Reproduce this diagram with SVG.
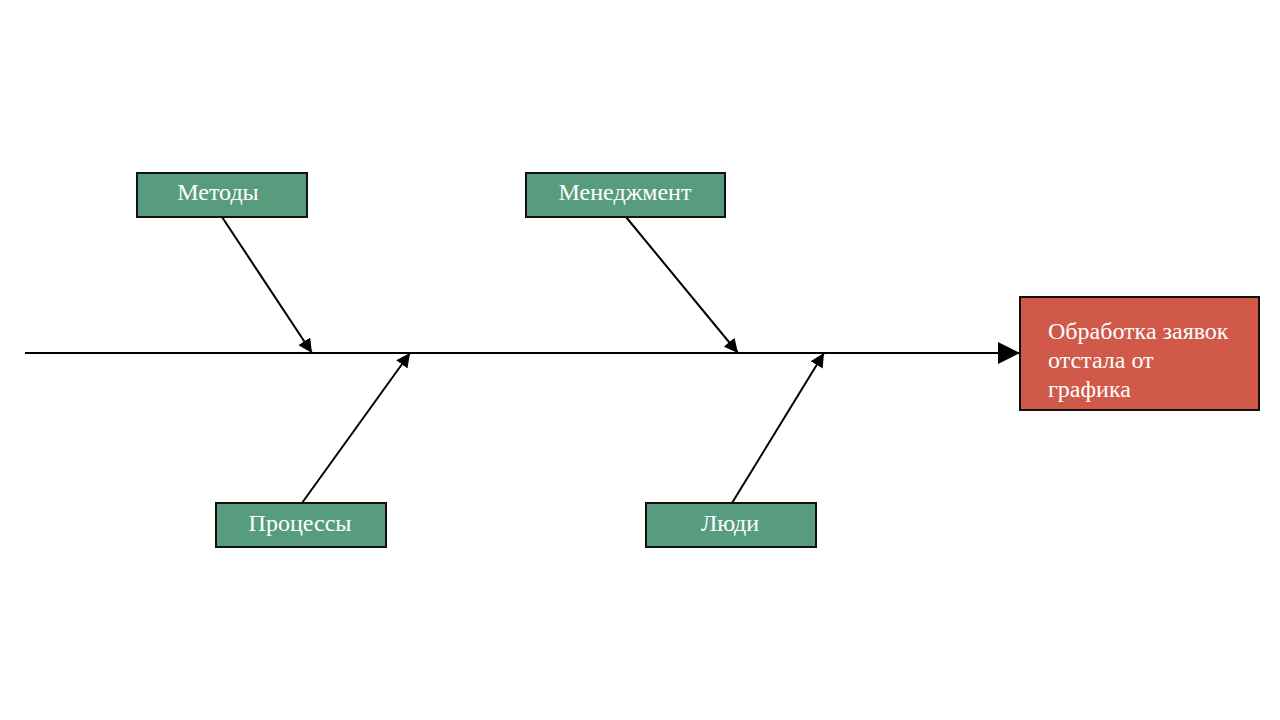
<svg xmlns="http://www.w3.org/2000/svg" width="1280" height="720" viewBox="0 0 1280 720">
<style>
.cat rect{fill:#579c7e;stroke:#111;stroke-width:2}
.cat text,.eff text{fill:#fff;font-family:"Liberation Serif",serif;font-size:24px}
.cat text{text-anchor:middle}
.eff rect{fill:#d0594a;stroke:#111;stroke-width:2}
.ln{stroke:#000;stroke-width:2;fill:none}
</style>
<defs>
<marker id="ah" viewBox="0 0 10 10" refX="10" refY="5" markerWidth="7" markerHeight="7" markerUnits="strokeWidth" orient="auto">
<path d="M0,0L10,5L0,10z" fill="#000"/>
</marker>
<marker id="big" viewBox="0 0 10 10" refX="10" refY="5" markerWidth="11" markerHeight="11" markerUnits="strokeWidth" orient="auto">
<path d="M0,0L10,5L0,10z" fill="#000"/>
</marker>
</defs>
<rect width="1280" height="720" fill="#fff"/>
<g id="connectors">
<line class="ln" x1="25" y1="353" x2="1020" y2="353" marker-end="url(#big)"/>
<line class="ln" x1="222" y1="217" x2="312" y2="353" marker-end="url(#ah)"/>
<line class="ln" x1="626" y1="217" x2="738" y2="353" marker-end="url(#ah)"/>
<line class="ln" x1="302" y1="503" x2="410" y2="353" marker-end="url(#ah)"/>
<line class="ln" x1="732" y1="503" x2="824" y2="353" marker-end="url(#ah)"/>
</g>
<g id="metody" class="cat"><rect x="137" y="173" width="170" height="44"/><text x="218" y="200">Методы</text></g>
<g id="menedzhment" class="cat"><rect x="526" y="173" width="199" height="44"/><text x="625" y="200">Менеджмент</text></g>
<g id="protsessy" class="cat"><rect x="216" y="503" width="170" height="44"/><text x="300" y="531">Процессы</text></g>
<g id="lyudi" class="cat"><rect x="646" y="503" width="170" height="44"/><text x="730" y="531">Люди</text></g>
<g id="effect" class="eff"><rect x="1020" y="297" width="239" height="113"/>
<text x="1048" y="339">Обработка заявок</text>
<text x="1048" y="368">отстала от</text>
<text x="1048" y="397">графика</text></g>
</svg>
